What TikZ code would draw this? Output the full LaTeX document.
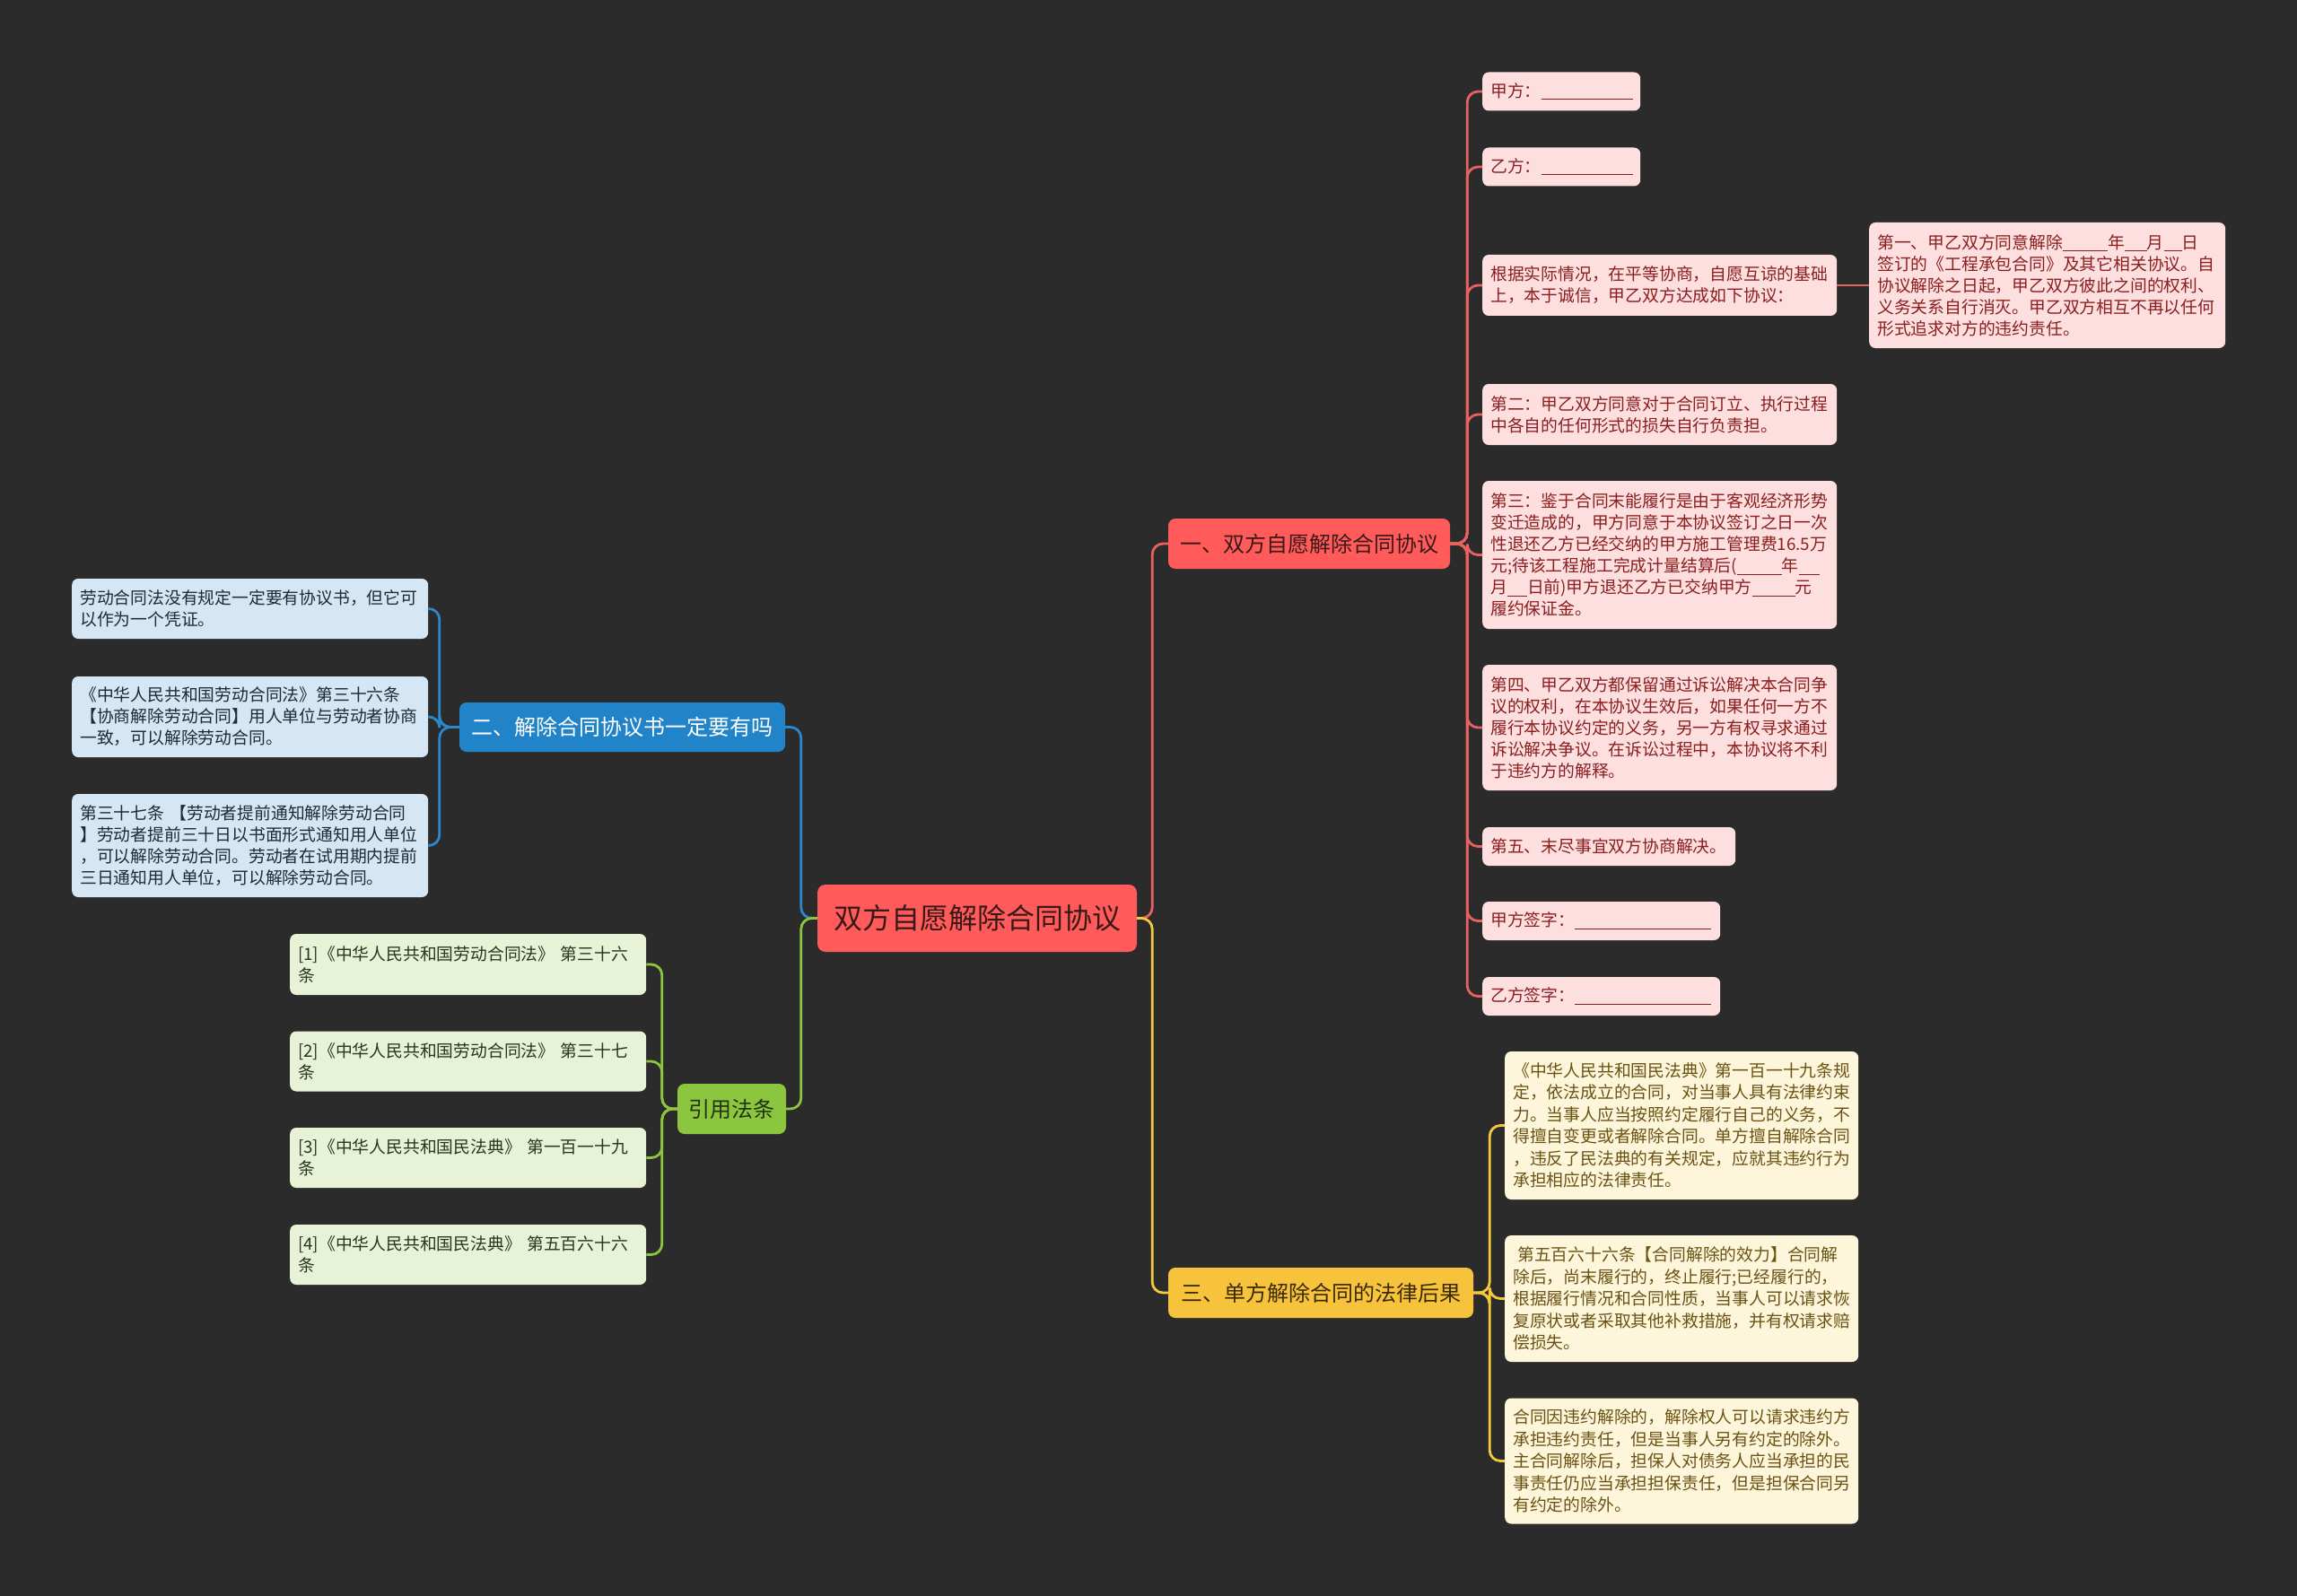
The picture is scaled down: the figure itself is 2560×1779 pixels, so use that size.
\documentclass[tikz,border=0pt]{standalone}
\usepackage{fontspec}
\setmainfont{Noto Sans CJK SC}
\usetikzlibrary{calc}
\definecolor{bg}{HTML}{2B2B2B}
\definecolor{mainfill}{HTML}{FF5B5B}
\definecolor{maintext}{HTML}{3B1818}
\definecolor{yfill}{HTML}{F8C33C}
\definecolor{ytextb}{HTML}{3A2A05}
\definecolor{bfill}{HTML}{2183C8}
\definecolor{gfill}{HTML}{8CC63E}
\definecolor{gtextb}{HTML}{223311}
\definecolor{rleaffill}{HTML}{FDDFDF}
\definecolor{rleaftext}{HTML}{8B1E1E}
\definecolor{bleaffill}{HTML}{D5E7F5}
\definecolor{bleaftext}{HTML}{1E2A36}
\definecolor{gleaffill}{HTML}{E8F2D7}
\definecolor{gleaftext}{HTML}{2A3420}
\definecolor{yleaffill}{HTML}{FDF6DA}
\definecolor{yleaftext}{HTML}{6B5214}
\definecolor{rl}{HTML}{E86262}
\definecolor{bl}{HTML}{2C88CC}
\definecolor{gl}{HTML}{8CC63E}
\definecolor{yl}{HTML}{F6C93D}
\newcommand{\blank}[1]{\rule[-3pt]{#1pt}{1.2pt}}
\newcommand{\leaffont}{\fontsize{18.8pt}{24pt}\selectfont}
\newcommand{\yleaffont}{\fontsize{18.8pt}{24.5pt}\selectfont}
\newcommand{\branchfont}{\fontsize{24pt}{28pt}\selectfont}
\tikzset{
  leafbase/.style={rounded corners=7pt, inner xsep=9pt, inner ysep=8pt, align=left, anchor=west, font=\leaffont},
  rleaf/.style={leafbase, fill=rleaffill, text=rleaftext},
  bleaf/.style={leafbase, fill=bleaffill, text=bleaftext},
  gleaf/.style={leafbase, fill=gleaffill, text=gleaftext},
  yleaf/.style={leafbase, fill=yleaffill, text=yleaftext, font=\yleaffont},
  branchbase/.style={rounded corners=8pt, inner sep=0pt, align=center, font=\branchfont},
  mainnode/.style={rounded corners=9pt, inner sep=0pt, fill=mainfill, text=maintext, font=\fontsize{32pt}{36pt}\selectfont, minimum width=356pt, minimum height=75pt},
  conn/.style={line width=2.8pt, rounded corners=12pt},
  rline/.style={conn, draw=rl},
  bline/.style={conn, draw=bl},
  gline/.style={conn, draw=gl},
  yline/.style={conn, draw=yl},
}
\begin{document}
\begin{tikzpicture}[x=1pt,y=-1pt]
\useasboundingbox (0,0) rectangle (2560,1779);
\fill[bg] (0,0) rectangle (2560,1779);

% center
\node[mainnode] (main) at (1089,1023.5) {双方自愿解除合同协议};

% branches
\node[branchbase, fill=mainfill, text=maintext, minimum width=314pt, minimum height=56pt] (b1) at (1459,606) {一、双方自愿解除合同协议};
\node[branchbase, fill=bfill, text=white, minimum width=363pt, minimum height=55pt] (b2) at (693.5,810.5) {二、解除合同协议书一定要有吗};
\node[branchbase, fill=yfill, text=ytextb, minimum width=340pt, minimum height=56pt] (b3) at (1472,1441) {三、单方解除合同的法律后果};
\node[branchbase, fill=gfill, text=gtextb, minimum width=121pt, minimum height=56pt] (b4) at (815.5,1236) {引用法条};

% red leaves
\node[rleaf, text width=158pt, minimum height=43pt] (r1) at (1652,102) {甲方：\blank{102}};
\node[rleaf, text width=158pt, minimum height=43pt] (r2) at (1652,186) {乙方：\blank{102}};
\node[rleaf, text width=377pt, minimum height=68pt] (r3) at (1652,318) {根据实际情况，在平等协商，自愿互谅的基础\\上，本于诚信，甲乙双方达成如下协议：};
\node[rleaf, text width=377pt, minimum height=68pt] (r4) at (1652,462) {第二：甲乙双方同意对于合同订立、执行过程\\中各自的任何形式的损失自行负责担。};
\node[rleaf, text width=377pt, minimum height=165pt] (r5) at (1652,618.5) {第三：鉴于合同末能履行是由于客观经济形势\\变迁造成的，甲方同意于本协议签订之日一次\\性退还乙方已经交纳的甲方施工管理费16.5万\\元;待该工程施工完成计量结算后(\blank{50}年\blank{23}\\月\blank{22}日前)甲方退还乙方已交纳甲方\blank{48}元\\履约保证金。};
\node[rleaf, text width=377pt, minimum height=140pt] (r6) at (1652,811) {第四、甲乙双方都保留通过诉讼解决本合同争\\议的权利，在本协议生效后，如果任何一方不\\履行本协议约定的义务，另一方有权寻求通过\\诉讼解决争议。在诉讼过程中，本协议将不利\\于违约方的解释。};
\node[rleaf, text width=264pt, minimum height=43pt] (r7) at (1652,943.5) {第五、末尽事宜双方协商解决。};
\node[rleaf, text width=247pt, minimum height=43pt] (r8) at (1652,1026.5) {甲方签字：\blank{152}};
\node[rleaf, text width=247pt, minimum height=43pt] (r9) at (1652,1110.5) {乙方签字：\blank{152}};
\node[rleaf, text width=379pt, minimum height=140pt] (r10) at (2083,318) {第一、甲乙双方同意解除\blank{50}年\blank{25}月\blank{20}日\\签订的《工程承包合同》及其它相关协议。自\\协议解除之日起，甲乙双方彼此之间的权利、\\义务关系自行消灭。甲乙双方相互不再以任何\\形式追求对方的违约责任。};

% blue leaves
\node[bleaf, text width=379pt, minimum height=67pt] (l1) at (80,678.5) {劳动合同法没有规定一定要有协议书，但它可\\以作为一个凭证。};
\node[bleaf, text width=379pt, minimum height=90pt] (l2) at (80,799) {《中华人民共和国劳动合同法》第三十六条\\【协商解除劳动合同】用人单位与劳动者协商\\一致，可以解除劳动合同。};
\node[bleaf, text width=379pt, minimum height=115pt] (l3) at (80,942.5) {第三十七条~【劳动者提前通知解除劳动合同\\】劳动者提前三十日以书面形式通知用人单位\\，可以解除劳动合同。劳动者在试用期内提前\\三日通知用人单位，可以解除劳动合同。};

% green leaves
\node[gleaf, text width=379pt, minimum height=68pt] (g1) at (323,1075) {[1]《中华人民共和国劳动合同法》~第三十六\\条};
\node[gleaf, text width=379pt, minimum height=67pt] (g2) at (323,1183) {[2]《中华人民共和国劳动合同法》~第三十七\\条};
\node[gleaf, text width=379pt, minimum height=67pt] (g3) at (323,1290.5) {[3]《中华人民共和国民法典》~第一百一十九\\条};
\node[gleaf, text width=379pt, minimum height=67pt] (g4) at (323,1398.5) {[4]《中华人民共和国民法典》~第五百六十六\\条};

% yellow leaves
\node[yleaf, text width=376pt, minimum height=165pt] (y1) at (1677,1254.5) {《中华人民共和国民法典》第一百一十九条规\\定，依法成立的合同，对当事人具有法律约束\\力。当事人应当按照约定履行自己的义务，不\\得擅自变更或者解除合同。单方擅自解除合同\\，违反了民法典的有关规定，应就其违约行为\\承担相应的法律责任。};
\node[yleaf, text width=376pt, minimum height=141pt] (y2) at (1677,1447.5) {\hspace*{5pt}第五百六十六条【合同解除的效力】合同解\\除后，尚末履行的，终止履行;已经履行的，\\根据履行情况和合同性质，当事人可以请求恢\\复原状或者采取其他补救措施，并有权请求赔\\偿损失。};
\node[yleaf, text width=376pt, minimum height=140pt] (y3) at (1677,1628.5) {合同因违约解除的，解除权人可以请求违约方\\承担违约责任，但是当事人另有约定的除外。\\主合同解除后，担保人对债务人应当承担的民\\事责任仍应当承担担保责任，但是担保合同另\\有约定的除外。};

% connectors
\draw[rline] (main.east) -- ([xshift=17pt]main.east) |- (b1.west);
\draw[yline] (main.east) -- ([xshift=17pt]main.east) |- (b3.west);
\draw[bline] (main.west) -- ([xshift=-18pt]main.west) |- (b2.east);
\draw[gline] (main.west) -- ([xshift=-18pt]main.west) |- (b4.east);
\foreach \nm in {r1,r2,r3,r4,r5,r6,r7,r8,r9}
  \draw[rline] (b1.east) -- ([xshift=19pt]b1.east) |- (\nm.west);
\draw[rline] (r3.east) -- (r10.west);
\foreach \nm in {l1,l2,l3}
  \draw[bline] (b2.west) -- ([xshift=-22pt]b2.west) |- (\nm.east);
\foreach \nm in {g1,g2,g3,g4}
  \draw[gline] (b4.west) -- ([xshift=-17pt]b4.west) |- (\nm.east);
\foreach \nm in {y1,y2,y3}
  \draw[yline] (b3.east) -- ([xshift=18pt]b3.east) |- (\nm.west);
\end{tikzpicture}
\end{document}
